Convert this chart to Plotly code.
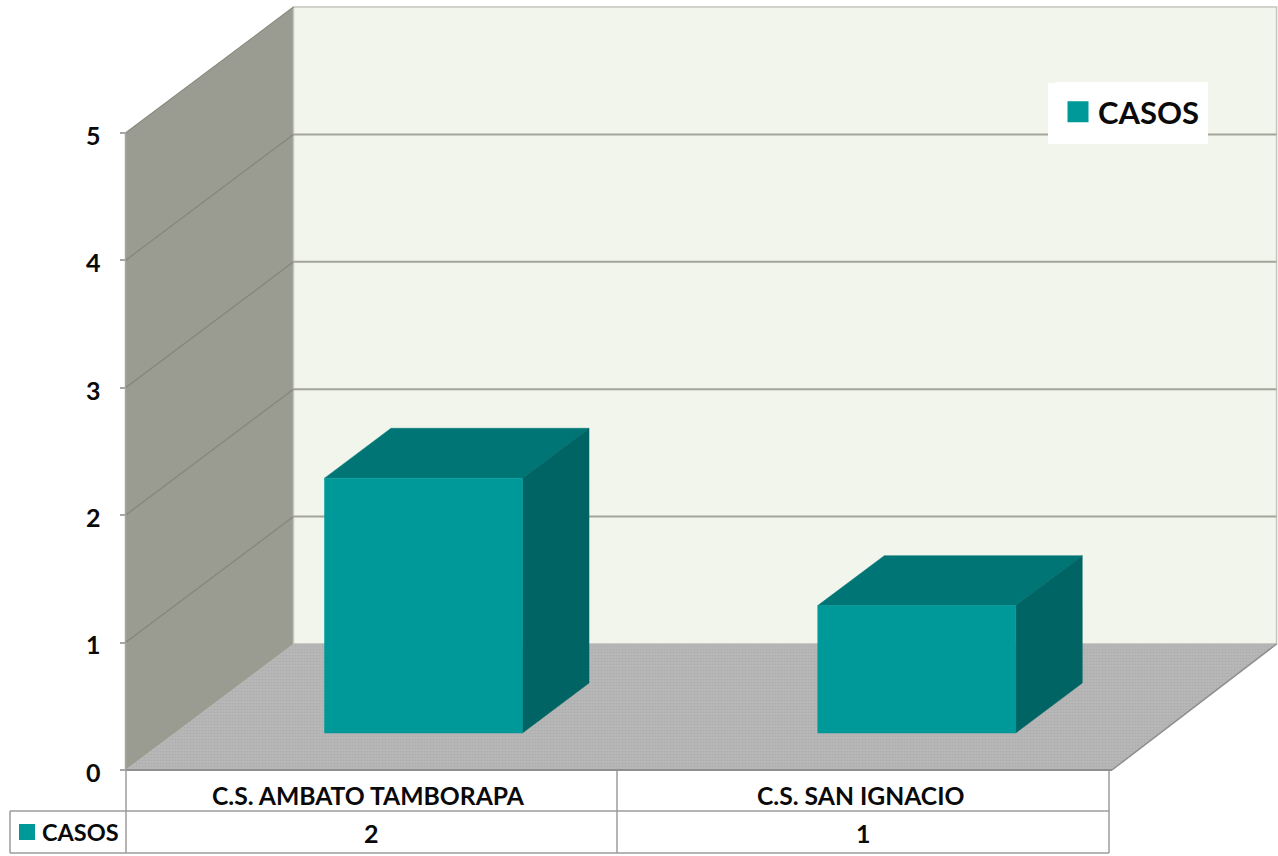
import plotly.graph_objects as go

# ---- data ----
categories = ["C.S. AMBATO TAMBORAPA", "C.S. SAN IGNACIO"]
casos = [2, 1]
series_name = "CASOS"
y_ticks = [0, 1, 2, 3, 4, 5]

# ---- oblique projection (data units) ----
W, H = 1278, 856
PX_PER_CAT = 493.25
PX_PER_VAL = 127.4
X0_PX, Y0_PX = 125.5, 770.0
DEPTH_X = 168 / PX_PER_CAT
DEPTH_Y = 126 / PX_PER_VAL
BAR_W = 198 / PX_PER_CAT
BAR_D0, BAR_D1 = 0.294, 0.69
BAR_SHIFT = 0.004
N = len(categories)
V_MAX = y_ticks[-1]
BACK_RIGHT = N - 0.007

TEAL_FRONT, TEAL_TOP, TEAL_SIDE = "#009999", "#007575", "#006464"
FONT = "Lato"
TXT = "#0a0a0a"


def proj(x, v, d):
    return x + d * DEPTH_X, v + d * DEPTH_Y


def poly(points, fill, line=None, lw=0.5, pattern=None):
    xs, ys = zip(*[proj(*p) for p in points])
    return go.Scatter(
        x=list(xs) + [xs[0]], y=list(ys) + [ys[0]], mode="lines", fill="toself",
        fillcolor=fill, fillpattern=pattern,
        line=dict(color=line or fill, width=lw), showlegend=False, hoverinfo="skip",
    )


def seg(p, q, color, lw):
    xs, ys = zip(proj(*p), proj(*q))
    return go.Scatter(x=list(xs), y=list(ys), mode="lines", line=dict(color=color, width=lw),
                      showlegend=False, hoverinfo="skip")


fig = go.Figure()

# walls
fig.add_trace(poly([(0, 0, 0), (0, V_MAX, 0), (0, V_MAX, 1), (0, 0, 1)], "#9a9b91"))
fig.add_trace(poly([(0, 0, 1), (0, V_MAX, 1), (BACK_RIGHT, V_MAX, 1), (BACK_RIGHT, 0, 1)],
                   "#f2f5eb", line="#c4c6bc", lw=1.5))
# floor
fig.add_trace(poly([(0, 0, 0), (N, 0, 0), (BACK_RIGHT, 0, 1), (0, 0, 1)], "#b2b2b2", line="#b2b2b2",
                   pattern=dict(shape=".", bgcolor="#b7b7b7", fgcolor="#a6a6a6", size=3, solidity=0.4)))
fig.add_trace(seg((0, 0, 0), (N, 0, 0), "#8f8f8f", 2))
fig.add_trace(seg((N, 0, 0), (BACK_RIGHT, 0, 1), "#8f8f8f", 1.5))
fig.add_trace(seg((0, 0, 0), (0, V_MAX, 0), "#a6a6a0", 1.5))
fig.add_trace(seg((0, V_MAX, 0), (0, V_MAX, 1), "#8a8b82", 1.2))
# gridlines
for v in y_ticks[1:-1]:
    fig.add_trace(seg((0, v, 0), (0, v, 1), "#84857c", 1.2))
    fig.add_trace(seg((0, v, 1), (BACK_RIGHT, v, 1), "#a3a59b", 2))

# bars
for i, val in enumerate(casos):
    a = i + 0.5 - BAR_W / 2 + BAR_SHIFT
    b = i + 0.5 + BAR_W / 2 + BAR_SHIFT
    fig.add_trace(poly([(a, val, BAR_D0), (b, val, BAR_D0), (b, val, BAR_D1), (a, val, BAR_D1)], TEAL_TOP))
    fig.add_trace(poly([(b, 0, BAR_D0), (b, val, BAR_D0), (b, val, BAR_D1), (b, 0, BAR_D1)], TEAL_SIDE))
    fig.add_trace(poly([(a, 0, BAR_D0), (b, 0, BAR_D0), (b, val, BAR_D0), (a, val, BAR_D0)], TEAL_FRONT))

# legend entry
fig.add_trace(go.Scatter(x=[None], y=[None], mode="markers", name=series_name,
                         marker=dict(symbol="square", size=16, color=TEAL_FRONT,
                                     line=dict(color=TEAL_FRONT, width=5))))


# data table
def fx(px):
    return px / W


def fy(px):
    return 1 - px / H


TABLE_X = [126, 617, 1109]
TABLE_Y = [771, 811, 853]
KEY_X = 10
LINE = dict(color="#9c9c9c", width=1.5)
shapes = []
for x in TABLE_X:
    shapes.append(dict(type="line", xref="paper", yref="paper", x0=fx(x), x1=fx(x),
                       y0=fy(TABLE_Y[0]), y1=fy(TABLE_Y[2]), line=LINE))
shapes.append(dict(type="line", xref="paper", yref="paper", x0=fx(KEY_X), x1=fx(TABLE_X[2]),
                   y0=fy(TABLE_Y[1]), y1=fy(TABLE_Y[1]), line=LINE))
shapes.append(dict(type="line", xref="paper", yref="paper", x0=fx(KEY_X), x1=fx(TABLE_X[2]),
                   y0=fy(TABLE_Y[2]), y1=fy(TABLE_Y[2]), line=LINE))
shapes.append(dict(type="line", xref="paper", yref="paper", x0=fx(KEY_X), x1=fx(KEY_X),
                   y0=fy(TABLE_Y[1]), y1=fy(TABLE_Y[2]), line=LINE))
shapes.append(dict(type="rect", xref="paper", yref="paper", x0=fx(19), x1=fx(35),
                   y0=fy(824), y1=fy(840), fillcolor=TEAL_FRONT, line=dict(width=0)))
# white plate that carries the legend
shapes.append(dict(type="rect", xref="paper", yref="paper", x0=fx(1048), x1=fx(1208),
                   y0=fy(83), y1=fy(144), fillcolor="white", line=dict(width=0)))

annotations = []
for i, (c, val) in enumerate(zip(categories, casos)):
    xc = (TABLE_X[i] + TABLE_X[i + 1]) / 2
    annotations.append(dict(text=f"<b>{c}</b>", xref="paper", yref="paper", x=fx(xc - 3), y=fy(795),
                            xanchor="center", yanchor="middle",
                            showarrow=False, font=dict(family=FONT, size=24.7, color=TXT)))
    annotations.append(dict(text=f"<b>{val}</b>", xref="paper", yref="paper", x=fx(xc), y=fy(833),
                            xanchor="center", yanchor="middle",
                            showarrow=False, font=dict(family=FONT, size=25, color=TXT)))
annotations.append(dict(text=f"<b>{series_name}</b>", xref="paper", yref="paper", x=fx(80), y=fy(832),
                        xanchor="center", yanchor="middle",
                        showarrow=False, font=dict(family=FONT, size=23.5, color=TXT)))

fig.update_layout(
    width=W, height=H, margin=dict(l=0, r=0, t=0, b=0),
    paper_bgcolor="white", plot_bgcolor="white",
    xaxis=dict(range=[-X0_PX / PX_PER_CAT, (W - X0_PX) / PX_PER_CAT], visible=False, domain=[0, 1]),
    yaxis=dict(
        range=[(Y0_PX - H) / PX_PER_VAL, Y0_PX / PX_PER_VAL], domain=[0, 1],
        anchor="free", position=X0_PX / W, side="left",
        tickvals=y_ticks, ticks="outside", ticklen=6, tickcolor="#a6a6a6", tickwidth=1.5,
        showgrid=False, zeroline=False, showline=False, ticklabelstandoff=14, ticklabelshift=3,
        tickfont=dict(family=FONT, size=25, color=TXT, weight="bold"),
    ),
    legend=dict(
        x=fx(1055), y=fy(82), xanchor="left", yanchor="top",
        bgcolor="white", bordercolor="white", borderwidth=3,
        font=dict(family=FONT, size=31, color=TXT, weight="bold"),
        itemwidth=30,
    ),
    shapes=shapes, annotations=annotations, showlegend=True,
)

fig.write_html("out.html", config={"displayModeBar": False},
               post_script="document.body.style.margin='0';document.documentElement.style.overflow='hidden';")
